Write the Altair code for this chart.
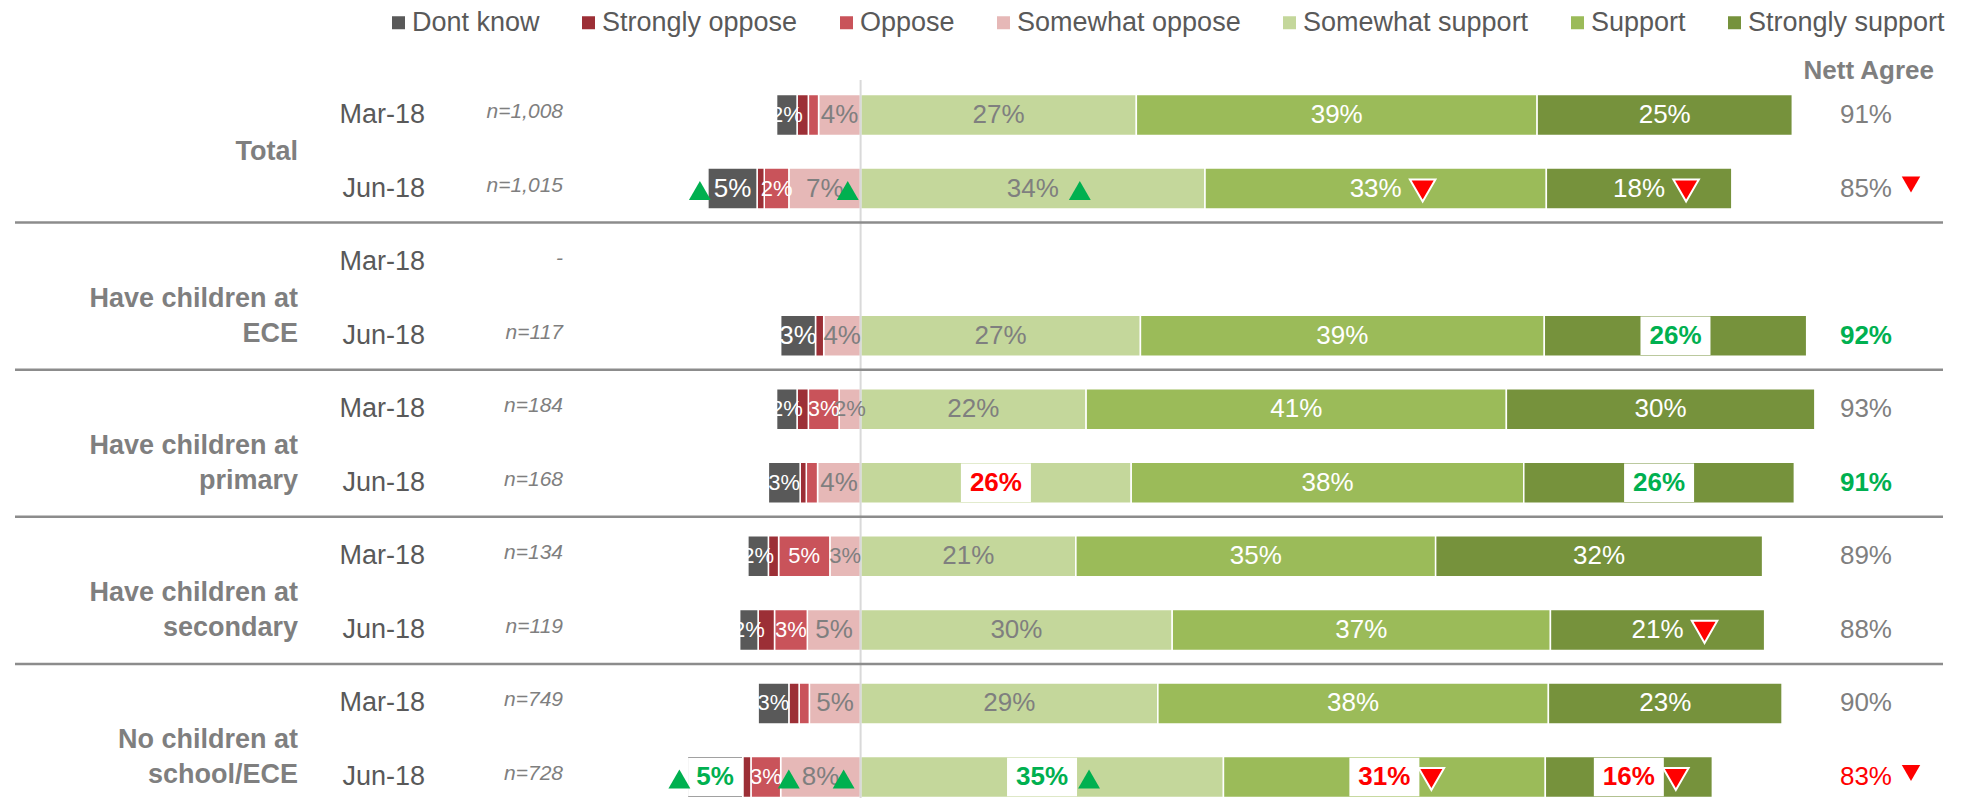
import altair as alt
import pandas as pd

FONT = "Liberation Sans, Arial, sans-serif"

# ---------------- data ----------------
group_labels = ["Total", "Have children at\nECE", "Have children at\nprimary",
                "Have children at\nsecondary", "No children at\nschool/ECE"]
waves = ["Mar-18", "Jun-18"]
sample_sizes = ["n=1,008", "n=1,015", "-", "n=117", "n=184", "n=168",
                "n=134", "n=119", "n=749", "n=728"]

series_names = ["Dont know", "Strongly oppose", "Oppose", "Somewhat oppose",
                "Somewhat support", "Support", "Strongly support"]
series_colors = ["#595959", "#9c2f36", "#c9535a", "#e6b8b7",
                 "#c4d79b", "#9bbb59", "#76923c"]

dont_know        = [2.0, 4.8, None, 3.4, 2.0, 3.1, 2.0, 1.8, 3.0, 5.4]
strongly_oppose  = [1.1, 0.7, None, 0.8, 1.1, 0.6, 1.0, 1.6, 1.0, 0.8]
oppose           = [1.0, 2.4, None, 0.0, 3.0, 1.1, 5.0, 3.2, 1.0, 2.9]
somewhat_oppose  = [4.1, 7.0, None, 3.6, 2.1, 4.2, 3.0, 5.2, 5.0, 7.8]
somewhat_support = [26.9, 33.6, None, 27.3, 22.0, 26.4, 21.0, 30.4, 29.0, 35.4]
support          = [39.1, 33.3, None, 39.4, 41.0, 38.3, 35.1, 36.9, 38.1, 31.4]
strongly_support = [24.9, 18.1, None, 25.6, 30.1, 26.4, 31.9, 20.9, 22.8, 16.3]

nett_agree = ["91%", "85%", "", "92%", "93%", "91%", "89%", "88%", "90%", "83%"]
nett_flag  = ["", "down", "", "green", "", "green", "", "", "", "red-down"]

# significance markers ("up" / "down") per series and row
sig_dont_know        = ["", "up", "", "", "", "", "", "", "", "up"]
sig_oppose           = ["", "", "", "", "", "", "", "", "", "up"]
sig_somewhat_oppose  = ["", "up", "", "", "", "", "", "", "", "up"]
sig_somewhat_support = ["", "up", "", "", "", "", "", "", "", "up"]
sig_support          = ["", "down", "", "", "", "", "", "", "", "down"]
sig_strongly_support = ["", "down", "", "", "", "", "", "down", "", "down"]

# highlighted (boxed, bold) labels
hl_dont_know        = ["", "", "", "", "", "", "", "", "", "green"]
hl_somewhat_support = ["", "", "", "", "", "red", "", "", "", "green"]
hl_support          = ["", "", "", "", "", "", "", "", "", "red"]
hl_strongly_support = ["", "", "", "green", "", "green", "", "", "", "red"]

# ---------------- build tables ----------------
values = {"Dont know": dont_know, "Strongly oppose": strongly_oppose,
          "Oppose": oppose, "Somewhat oppose": somewhat_oppose,
          "Somewhat support": somewhat_support, "Support": support,
          "Strongly support": strongly_support}
empty = [""] * 10
sigs = {"Dont know": sig_dont_know, "Strongly oppose": empty, "Oppose": sig_oppose,
        "Somewhat oppose": sig_somewhat_oppose, "Somewhat support": sig_somewhat_support,
        "Support": sig_support, "Strongly support": sig_strongly_support}
hls = {"Dont know": hl_dont_know, "Strongly oppose": empty, "Oppose": empty,
       "Somewhat oppose": empty, "Somewhat support": hl_somewhat_support,
       "Support": hl_support, "Strongly support": hl_strongly_support}
label_color = {"Dont know": "white", "Strongly oppose": "white", "Oppose": "white",
               "Somewhat oppose": "#7f7f7f", "Somewhat support": "#7f7f7f",
               "Support": "white", "Strongly support": "white"}
HL_COLOR = {"green": "#00b050", "red": "#ff0000"}

row_keys = [f"{g}-{w}" for g in range(len(group_labels)) for w in waves]

neg_order = ["Somewhat oppose", "Oppose", "Strongly oppose", "Dont know"]
pos_order = ["Somewhat support", "Support", "Strongly support"]

recs = []
for i, key in enumerate(row_keys):
    for order, sign in ((neg_order, -1), (pos_order, 1)):
        edge = 0.0
        for s in order:
            v = values[s][i]
            if not v:
                continue
            a, b = edge, edge + sign * v
            edge = b
            show = s != "Strongly oppose" and v >= 1.5
            lab = f"{int(v + 0.5)}%" if show else ""
            if s == "Oppose":
                fs = 22
            elif s in ("Dont know", "Somewhat oppose") and v < 3.2:
                fs = 22
            else:
                fs = 26
            recs.append(dict(row=key, series=s, start=min(a, b), end=max(a, b),
                             mid=(a + b) / 2, label=lab, lc=label_color[s], fs=fs,
                             sig=sigs[s][i], hl=hls[s][i],
                             hlc=HL_COLOR.get(hls[s][i], "")))
seg = pd.DataFrame(recs)

rows = pd.DataFrame({
    "row": row_keys,
    "gi": [g for g in range(len(group_labels)) for _ in waves],
    "wave": waves * len(group_labels),
    "group": [group_labels[g] for g in range(len(group_labels)) for _ in waves],
    "n": sample_sizes,
    "nett": nett_agree,
    "flag": nett_flag,
})
rows["ncolor"] = rows["flag"].map(lambda f: "#00b050" if f == "green"
                                  else ("#ff0000" if f.startswith("red") else "#7f7f7f"))

# ---------------- scales ----------------
W, H = 1928, 728
xscale = alt.Scale(domain=[-82.5, 105.6], nice=False, zero=False)
yscale = alt.Scale(domain=row_keys, range=[24.5, 727.5], paddingInner=0.4426, paddingOuter=0)
Y = alt.Y("row:N", scale=yscale, axis=None)

base = alt.Chart(seg)

bars = base.mark_bar(stroke="white", strokeWidth=1.5).encode(
    x=alt.X("start:Q", scale=xscale, axis=None),
    x2="end:Q",
    y=Y,
    color=alt.Color("series:N", scale=alt.Scale(domain=series_names, range=series_colors),
                    legend=alt.Legend(orient="none", legendX=370, legendY=-61,
                                      direction="horizontal", columns=7, title=None,
                                      symbolType="square", symbolSize=169,
                                      symbolStrokeWidth=0, labelFont=FONT,
                                      labelFontSize=27, labelColor="#595959",
                                      labelLimit=500, labelOffset=0,
                                      columnPadding=35, padding=0)),
)

zero_line = alt.Chart(pd.DataFrame({"z": [0]})).mark_rule(color="#d9d9d9", strokeWidth=2).encode(
    x=alt.X("z:Q", scale=xscale, axis=None), y=alt.value(10), y2=alt.value(H))

separators = alt.Chart(rows).transform_filter(
    "datum.wave == 'Jun-18' && datum.gi < 4"
).mark_rule(color="#8c8c8c", strokeWidth=2.5, yOffset=34).encode(
    y=Y, x=alt.value(0), x2=alt.value(W))

XM = alt.X("mid:Q", scale=xscale, axis=None)

box_wide = base.transform_filter("datum.hl != '' && length(datum.label) == 3").mark_point(
    shape="M-1,-0.55L1,-0.55L1,0.55L-1,0.55Z", size=4900, filled=True,
    fill="white", opacity=1, strokeWidth=0).encode(x=XM, y=Y)
box_narrow = base.transform_filter("datum.hl != '' && length(datum.label) == 2").mark_point(
    shape="M-1,-0.71L1,-0.71L1,0.71L-1,0.71Z", size=2916, filled=True,
    fill="white", opacity=1, strokeWidth=0).encode(x=XM, y=Y)

labels = base.transform_filter("datum.label != '' && datum.hl == ''").mark_text(
    font=FONT, baseline="middle", align="center").encode(
    x=XM, y=Y, text="label:N",
    color=alt.Color("lc:N", scale=None), size=alt.Size("fs:Q", scale=None))

hl_labels = base.transform_filter("datum.hl != ''").mark_text(
    font=FONT, fontWeight="bold", fontSize=26, baseline="middle", align="center").encode(
    x=XM, y=Y, text="label:N", color=alt.Color("hlc:N", scale=None))


def tri(kind, cond, xfield, dx):
    if kind == "up":
        m = dict(shape="triangle-up", size=480, filled=True, fill="#00b050",
                 opacity=1, strokeWidth=0)
    else:
        m = dict(shape="triangle-down", size=650, filled=True, fill="#ff0000",
                 opacity=1, stroke="white", strokeWidth=2)
    return base.transform_filter(f"datum.sig == '{kind}' && {cond}").mark_point(
        xOffset=dx, yOffset=2, **m).encode(
        x=alt.X(f"{xfield}:Q", scale=xscale, axis=None), y=Y)


triangles = [
    tri("up", "datum.series == 'Dont know'", "start", -8),
    tri("up", "datum.series != 'Dont know' && length(datum.label) == 2", "mid", 23),
    tri("up", "datum.series != 'Dont know' && length(datum.label) == 3", "mid", 47),
    tri("down", "length(datum.label) == 2", "mid", 23),
    tri("down", "length(datum.label) == 3", "mid", 47),
]

rbase = alt.Chart(rows)
group_text = rbase.transform_filter("datum.wave == 'Mar-18'").mark_text(
    font=FONT, fontWeight="bold", fontSize=27, color="#7f7f7f", align="right",
    baseline="middle", lineBreak="\n", lineHeight=35, yOffset=37).encode(
    x=alt.value(283), y=Y, text="group:N")

wave_text = rbase.mark_text(font=FONT, fontSize=27, color="#595959", align="right",
                            baseline="middle").encode(x=alt.value(410), y=Y, text="wave:N")

n_text = rbase.mark_text(font=FONT, fontSize=21, fontStyle="italic", color="#7f7f7f",
                         align="right", baseline="middle", yOffset=-3).encode(
    x=alt.value(548), y=Y, text="n:N")

nett_normal = rbase.transform_filter("datum.flag != 'green'").mark_text(
    font=FONT, fontSize=26, align="right", baseline="middle").encode(
    x=alt.value(1877), y=Y, text="nett:N", color=alt.Color("ncolor:N", scale=None))
nett_bold = rbase.transform_filter("datum.flag == 'green'").mark_text(
    font=FONT, fontSize=26, fontWeight="bold", align="right", baseline="middle").encode(
    x=alt.value(1877), y=Y, text="nett:N", color=alt.Color("ncolor:N", scale=None))
nett_tri = rbase.transform_filter("indexof(datum.flag, 'down') >= 0").mark_point(
    shape="triangle-down", size=340, filled=True, fill="#ff0000", opacity=1,
    strokeWidth=0, yOffset=-4).encode(x=alt.value(1896), y=Y)

header = alt.Chart(pd.DataFrame({"t": ["Nett Agree"]})).mark_text(
    font=FONT, fontSize=26, fontWeight="bold", color="#7f7f7f", align="right",
    baseline="middle").encode(x=alt.value(1919), y=alt.value(1), text="t:N")

chart = alt.layer(
    bars, zero_line, separators, box_wide, box_narrow, labels, hl_labels,
    *triangles, group_text, wave_text, n_text, nett_normal, nett_bold, nett_tri, header
).properties(
    width=W, height=H,
    autosize=alt.AutoSizeParams(type="none"),
    padding={"left": 7, "top": 62, "right": 24, "bottom": 0},
).configure_view(stroke=None)

chart.save("out.html", embed_options={"renderer": "svg", "actions": False})
